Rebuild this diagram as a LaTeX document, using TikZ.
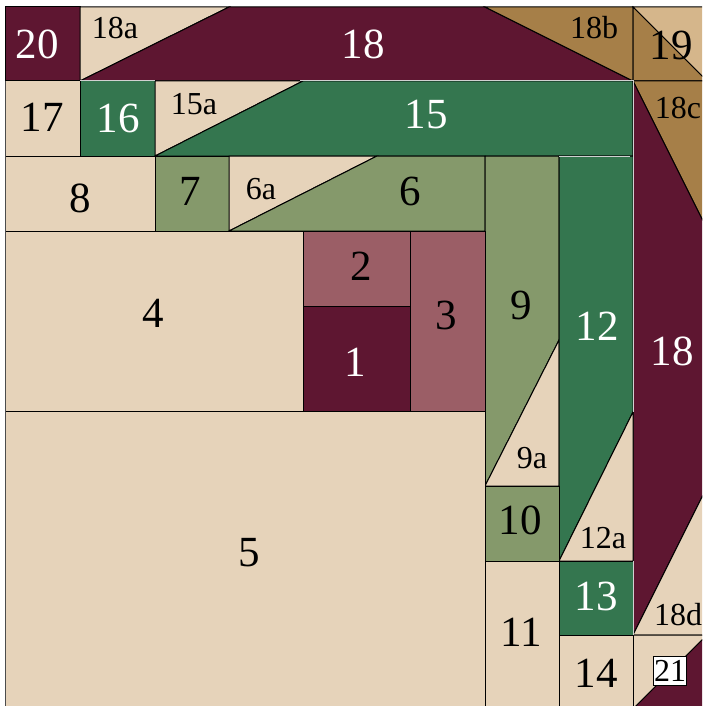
\documentclass[tikz,border=0pt]{standalone}
\usepackage{fontspec}
\setmainfont{Liberation Serif}
\usepackage{xcolor}
\usepackage{tikz}
\definecolor{granate}{HTML}{5E1631}
\definecolor{crudo}{HTML}{E6D3BA}
\definecolor{pino}{HTML}{34764F}
\definecolor{salvia}{HTML}{85996B}
\definecolor{rosa}{HTML}{9B5E66}
\definecolor{ocre}{HTML}{A67F48}
\definecolor{arena}{HTML}{D5B68B}
\tikzset{
  pieza/.style={draw=black, line width=1pt, line join=miter},
  claro/.style={draw=black!18, line width=1pt},
  etq/.style={inner sep=0pt, text=black, font=\fontsize{43}{43}\selectfont},
  etqb/.style={etq, text=white},
  etqc/.style={inner sep=0pt, text=black, font=\fontsize{32}{32}\selectfont},
  caja/.style={etqc, draw=black, fill=white, line width=0.7pt, inner xsep=0.8pt, inner ysep=3.7pt},
}
\begin{document}
\begin{tikzpicture}[x=1pt, y=-1pt]
  \useasboundingbox (0,0) rectangle (702,706);
  \clip (0,0) rectangle (702,706);
  \fill[white] (0,0) rectangle (702,706);
  % fila superior
  \filldraw[pieza, fill=granate] (5.5,7) rectangle (80,81);
  \filldraw[pieza, fill=crudo] (80,7) -- (229,7) -- (80,81) -- cycle;
  \filldraw[pieza, fill=granate] (229,7) -- (485,7) -- (633,81) -- (80,81) -- cycle;
  \filldraw[pieza, fill=ocre] (485,7) -- (633,7) -- (633,81) -- cycle;
  \filldraw[pieza, fill=arena] (633,7) -- (707,7) -- (707,81) -- cycle;
  \filldraw[pieza, fill=ocre] (633,7) -- (707,81) -- (633,81) -- cycle;
  % segunda fila
  \filldraw[pieza, fill=crudo] (5.5,81) rectangle (80,156);
  \filldraw[pieza, fill=pino] (80,81) rectangle (155,156);
  \filldraw[pieza, fill=crudo] (155,81) -- (303,81) -- (155,156) -- cycle;
  \filldraw[pieza, fill=pino] (303,81) -- (633,81) -- (633,156) -- (155,156) -- cycle;
  % columna derecha
  \filldraw[pieza, fill=ocre] (633,81) -- (707,81) -- (707,229) -- cycle;
  \filldraw[pieza, fill=granate] (633,81) -- (707,229) -- (707,487) -- (633,635) -- cycle;
  \filldraw[pieza, fill=crudo] (707,487) -- (707,635) -- (633,635) -- cycle;
  \filldraw[pieza, fill=crudo] (633,635) -- (707,635) -- (633,709) -- cycle;
  \filldraw[pieza, fill=granate] (707,635) -- (707,709) -- (633,709) -- cycle;
  % tercera fila
  \filldraw[pieza, fill=crudo] (5.5,156) rectangle (155,231);
  \filldraw[pieza, fill=salvia] (155,156) rectangle (229,231);
  \filldraw[pieza, fill=crudo] (229,156) -- (377,156) -- (229,231) -- cycle;
  \filldraw[pieza, fill=salvia] (377,156) -- (485,156) -- (485,231) -- (229,231) -- cycle;
  % tiras verticales
  \filldraw[pieza, fill=salvia] (485,156) -- (559,156) -- (559,340) -- (485,486) -- cycle;
  \filldraw[pieza, fill=crudo] (559,340) -- (559,486) -- (485,486) -- cycle;
  \filldraw[pieza, fill=pino] (559,156) -- (633,156) -- (633,412) -- (559,561) -- cycle;
  \filldraw[pieza, fill=crudo] (633,412) -- (633,561) -- (559,561) -- cycle;
  % centro
  \filldraw[pieza, fill=crudo] (5.5,231) rectangle (303,411);
  \filldraw[pieza, fill=rosa] (303,231) rectangle (410,306);
  \filldraw[pieza, fill=granate] (303,306) rectangle (410,411);
  \filldraw[pieza, fill=rosa] (410,231) rectangle (485,411);
  \filldraw[pieza, fill=crudo] (5.5,411) rectangle (485,709);
  \filldraw[pieza, fill=salvia] (485,486) rectangle (559,561);
  \filldraw[pieza, fill=crudo] (485,561) rectangle (559,709);
  \filldraw[pieza, fill=pino] (559,561) rectangle (633,635);
  \filldraw[pieza, fill=crudo] (559,635) rectangle (633,709);
  % bordes claros
  \draw[claro] (80,81) -- (155,81);
  \draw[claro] (300,81) -- (633,81) -- (633,412);
  \draw[claro] (559,156) -- (630,156);
  \draw[claro] (633,561) -- (633,635);
  \draw[draw=black!70, line width=1.8pt] (5.5,81) -- (5.5,709);

  \node[etqb] (n20) at (37,44) {20};
  \node[etqc] (n18a) at (115,28) {18a};
  \node[etqb] (n18) at (363,44) {18};
  \node[etqc] (n18b) at (594,28) {18b};
  \node[etq] (n19) at (671,45) {19};
  \node[etq] (n17) at (42,117) {17};
  \node[etqb] (n16) at (118,118) {16};
  \node[etqc] (n15a) at (194,104) {15a};
  \node[etqb] (n15) at (426,115) {15};
  \node[etqc] (n18c) at (678,108) {18c};
  \node[etq] (n8) at (80,198) {8};
  \node[etq] (n7) at (190,191) {7};
  \node[etqc] (n6a) at (261,189) {6a};
  \node[etq] (n6) at (410,191) {6};
  \node[etq] (n4) at (153,313) {4};
  \node[etq] (n2) at (361,266) {2};
  \node[etqb] (n1) at (355,362) {1};
  \node[etq] (n3) at (446,315) {3};
  \node[etq] (n9) at (521,305) {9};
  \node[etqb] (n12) at (597,326) {12};
  \node[etqb] (n18r) at (672,351) {18};
  \node[etqc] (n9a) at (532,458) {9a};
  \node[etq] (n5) at (249,553) {5};
  \node[etq] (n10) at (520,520) {10};
  \node[etqc] (n12a) at (603,538) {12a};
  \node[etq] (n11) at (521,632) {11};
  \node[etqb] (n13) at (596,596) {13};
  \node[etq] (n14) at (596,673) {14};
  \node[etqc] (n18d) at (678,615) {18d};
  \node[caja] (n21) at (670,671) {21};
\end{tikzpicture}
\end{document}
